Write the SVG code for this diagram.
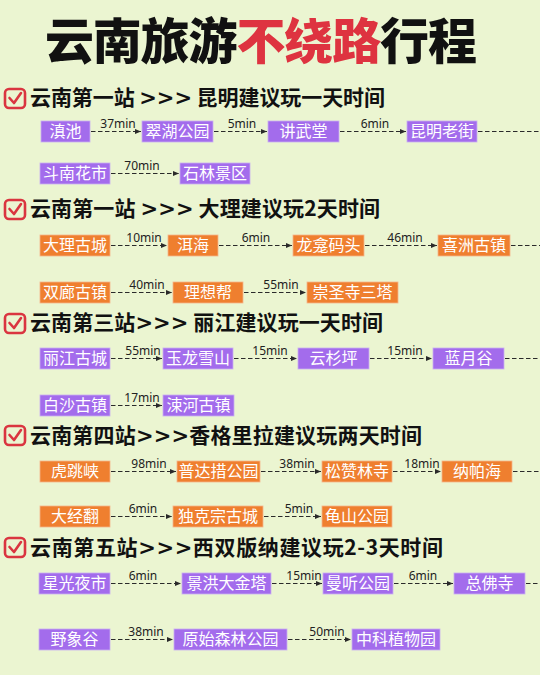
<svg xmlns="http://www.w3.org/2000/svg" width="540" height="675" viewBox="0 0 540 675">
<defs>
<style>
.bg{fill:#EBF5D1}
.title{font-family:"Noto Sans CJK SC",sans-serif;font-weight:900;font-size:49px;fill:#111}
.red{fill:#DE3340}
.hd{font-family:"Noto Sans CJK SC",sans-serif;font-weight:700;font-size:21px;fill:#111}
.gt{font-family:"DejaVu Sans",sans-serif;font-weight:700}
.chk rect{fill:none;stroke:#DA3540;stroke-width:2.6}
.chk path{fill:none;stroke:#DA3540;stroke-width:2.6;stroke-linecap:round;stroke-linejoin:round}
.p rect{fill:#A36CEC;stroke:#C9AEF3;stroke-width:0.8}
.o rect{fill:#EF7F2F;stroke:#F6B58A;stroke-width:0.8}
.node text{font-family:"Noto Sans CJK SC",sans-serif;font-size:16px;fill:#fff;text-anchor:middle}
.conn line{stroke:#2a2a2a;stroke-width:1.2;stroke-dasharray:4.5 2.5}
.conn text{font-family:"Noto Sans","Noto Sans CJK SC",sans-serif;font-size:12px;fill:#222;text-anchor:middle}
</style>
<marker id="ah" markerWidth="6" markerHeight="6" refX="6" refY="3" orient="auto" markerUnits="userSpaceOnUse">
<path d="M0,0.5 L6,3 L0,5.5 z" fill="#2a2a2a"/>
</marker>
</defs>
<rect class="bg" x="0" y="0" width="540" height="675"/>

<text class="title" x="45" y="59" textLength="432">云南旅游<tspan class="red">不绕路</tspan>行程</text>

<!-- headers -->
<g id="h1"><g class="chk"><rect x="5" y="89" width="20" height="19" rx="4"/><path d="M9.5,98 L14,103 L21,93"/></g>
<text class="hd" x="30" y="105" textLength="355">云南第一站 <tspan class="gt">&gt;&gt;&gt;</tspan> 昆明建议玩一天时间</text></g>
<g id="h2"><g class="chk"><rect x="5" y="200" width="20" height="19" rx="4"/><path d="M9.5,209 L14,214 L21,204"/></g>
<text class="hd" x="30" y="216" textLength="350">云南第一站 <tspan class="gt">&gt;&gt;&gt;</tspan> 大理建议玩2天时间</text></g>
<g id="h3"><g class="chk"><rect x="5" y="314" width="20" height="19" rx="4"/><path d="M9.5,323 L14,328 L21,318"/></g>
<text class="hd" x="30" y="330" textLength="353">云南第三站<tspan class="gt">&gt;&gt;&gt;</tspan> 丽江建议玩一天时间</text></g>
<g id="h4"><g class="chk"><rect x="5" y="426" width="20" height="19" rx="4"/><path d="M9.5,435 L14,440 L21,430"/></g>
<text class="hd" x="30" y="443" textLength="392">云南第四站<tspan class="gt">&gt;&gt;&gt;</tspan>香格里拉建议玩两天时间</text></g>
<g id="h5"><g class="chk"><rect x="5" y="538" width="20" height="19" rx="4"/><path d="M9.5,547 L14,552 L21,542"/></g>
<text class="hd" x="30" y="555" textLength="413">云南第五站<tspan class="gt">&gt;&gt;&gt;</tspan>西双版纳建议玩2-3天时间</text></g>

<!-- connectors -->
<g id="connectors" class="conn">
<line x1="91" y1="131.5" x2="141" y2="131.5" marker-end="url(#ah)"/><text x="118" y="127.5">37min</text>
<line x1="214" y1="131.5" x2="267" y2="131.5" marker-end="url(#ah)"/><text x="242" y="127.5">5min</text>
<line x1="340" y1="131.5" x2="406" y2="131.5" marker-end="url(#ah)"/><text x="375" y="127.5">6min</text>
<line x1="478" y1="131.5" x2="540" y2="131.5"/>
<line x1="111" y1="173.5" x2="179" y2="173.5" marker-end="url(#ah)"/><text x="142" y="169.5">70min</text>

<line x1="111" y1="245.5" x2="167" y2="245.5" marker-end="url(#ah)"/><text x="144" y="241.5">10min</text>
<line x1="219" y1="245.5" x2="292" y2="245.5" marker-end="url(#ah)"/><text x="256" y="241.5">6min</text>
<line x1="365" y1="245.5" x2="437" y2="245.5" marker-end="url(#ah)"/><text x="405" y="241.5">46min</text>
<line x1="511" y1="245.5" x2="540" y2="245.5"/>
<line x1="111" y1="292.5" x2="172" y2="292.5" marker-end="url(#ah)"/><text x="147" y="288.5">40min</text>
<line x1="244" y1="292.5" x2="306" y2="292.5" marker-end="url(#ah)"/><text x="281" y="288.5">55min</text>

<line x1="111" y1="358.5" x2="162" y2="358.5" marker-end="url(#ah)"/><text x="143" y="354.5">55min</text>
<line x1="234" y1="358.5" x2="297" y2="358.5" marker-end="url(#ah)"/><text x="270" y="354.5">15min</text>
<line x1="370" y1="358.5" x2="432" y2="358.5" marker-end="url(#ah)"/><text x="405" y="354.5">15min</text>
<line x1="505" y1="358.5" x2="540" y2="358.5"/>
<line x1="111" y1="405.5" x2="162" y2="405.5" marker-end="url(#ah)"/><text x="142" y="401.5">17min</text>

<line x1="111" y1="471.5" x2="176" y2="471.5" marker-end="url(#ah)"/><text x="149" y="467.5">98min</text>
<line x1="261" y1="471.5" x2="321" y2="471.5" marker-end="url(#ah)"/><text x="297" y="467.5">38min</text>
<line x1="393" y1="471.5" x2="441" y2="471.5" marker-end="url(#ah)"/><text x="422" y="467.5">18min</text>
<line x1="513" y1="471.5" x2="540" y2="471.5"/>
<line x1="111" y1="516.5" x2="172" y2="516.5" marker-end="url(#ah)"/><text x="143" y="512.5">6min</text>
<line x1="264" y1="516.5" x2="321" y2="516.5" marker-end="url(#ah)"/><text x="299" y="512.5">5min</text>

<line x1="111" y1="583.5" x2="181" y2="583.5" marker-end="url(#ah)"/><text x="143" y="579.5">6min</text>
<line x1="272" y1="583.5" x2="322" y2="583.5" marker-end="url(#ah)"/><text x="304" y="579.5">15min</text>
<line x1="394" y1="583.5" x2="453" y2="583.5" marker-end="url(#ah)"/><text x="423" y="579.5">6min</text>
<line x1="526" y1="583.5" x2="540" y2="583.5"/>
<line x1="111" y1="639.5" x2="173" y2="639.5" marker-end="url(#ah)"/><text x="146" y="635.5">38min</text>
<line x1="288" y1="639.5" x2="351" y2="639.5" marker-end="url(#ah)"/><text x="327" y="635.5">50min</text>
</g>

<!-- nodes -->
<g id="n-dianchi" class="node p"><rect x="41" y="121" width="49" height="21"/><text x="65.5" y="137">滇池</text></g>
<g id="n-cuihu" class="node p"><rect x="142" y="121" width="71" height="21"/><text x="177.5" y="137">翠湖公园</text></g>
<g id="n-jiangwutang" class="node p"><rect x="268" y="121" width="71" height="21"/><text x="303.5" y="137">讲武堂</text></g>
<g id="n-laojie" class="node p"><rect x="407" y="121" width="70" height="21"/><text x="442" y="137">昆明老街</text></g>
<g id="n-dounan" class="node p"><rect x="40" y="163" width="70" height="21"/><text x="75" y="179">斗南花市</text></g>
<g id="n-shilin" class="node p"><rect x="180" y="163" width="70" height="21"/><text x="215" y="179">石林景区</text></g>

<g id="n-daligucheng" class="node o"><rect x="40" y="235" width="70" height="21"/><text x="75" y="251">大理古城</text></g>
<g id="n-erhai" class="node o"><rect x="168" y="235" width="50" height="21"/><text x="193" y="251">洱海</text></g>
<g id="n-longkan" class="node o"><rect x="293" y="235" width="71" height="21"/><text x="328.5" y="251">龙龛码头</text></g>
<g id="n-xizhou" class="node o"><rect x="438" y="235" width="72" height="21"/><text x="474" y="251">喜洲古镇</text></g>
<g id="n-shuanglang" class="node o"><rect x="40" y="282" width="70" height="21"/><text x="75" y="298">双廊古镇</text></g>
<g id="n-lixiangbang" class="node o"><rect x="173" y="282" width="70" height="21"/><text x="208" y="298">理想帮</text></g>
<g id="n-santa" class="node o"><rect x="307" y="282" width="91" height="21"/><text x="352.5" y="298">崇圣寺三塔</text></g>

<g id="n-lijiang" class="node p"><rect x="40" y="348" width="70" height="21"/><text x="75" y="364">丽江古城</text></g>
<g id="n-yulong" class="node p"><rect x="163" y="348" width="70" height="21"/><text x="198" y="364">玉龙雪山</text></g>
<g id="n-yunshan" class="node p"><rect x="298" y="348" width="71" height="21"/><text x="333.5" y="364">云杉坪</text></g>
<g id="n-lanyue" class="node p"><rect x="433" y="348" width="71" height="21"/><text x="468.5" y="364">蓝月谷</text></g>
<g id="n-baisha" class="node p"><rect x="40" y="395" width="70" height="21"/><text x="75" y="411">白沙古镇</text></g>
<g id="n-shuhe" class="node p"><rect x="163" y="395" width="71" height="21"/><text x="198.5" y="411">涑河古镇</text></g>

<g id="n-hutiaoxia" class="node o"><rect x="40" y="461" width="70" height="21"/><text x="75" y="477">虎跳峡</text></g>
<g id="n-pudacuo" class="node o"><rect x="177" y="461" width="83" height="21"/><text x="218.5" y="477">普达措公园</text></g>
<g id="n-songzanlin" class="node o"><rect x="322" y="461" width="70" height="21"/><text x="357" y="477">松赞林寺</text></g>
<g id="n-napahai" class="node o"><rect x="442" y="461" width="70" height="21"/><text x="477" y="477">纳帕海</text></g>
<g id="n-dajingfan" class="node o"><rect x="40" y="506" width="70" height="21"/><text x="75" y="522">大经翻</text></g>
<g id="n-dukezong" class="node o"><rect x="173" y="506" width="90" height="21"/><text x="218" y="522">独克宗古城</text></g>
<g id="n-guishan" class="node o"><rect x="322" y="506" width="70" height="21"/><text x="357" y="522">龟山公园</text></g>

<g id="n-xingguang" class="node p"><rect x="39" y="573" width="71" height="21"/><text x="74.5" y="589">星光夜市</text></g>
<g id="n-jinta" class="node p"><rect x="182" y="573" width="89" height="21"/><text x="226.5" y="589">景洪大金塔</text></g>
<g id="n-manting" class="node p"><rect x="323" y="573" width="70" height="21"/><text x="358" y="589">曼听公园</text></g>
<g id="n-zongfo" class="node p"><rect x="454" y="573" width="71" height="21"/><text x="489.5" y="589">总佛寺</text></g>
<g id="n-yexianggu" class="node p"><rect x="39" y="629" width="71" height="21"/><text x="74.5" y="645">野象谷</text></g>
<g id="n-yuanshi" class="node p"><rect x="174" y="629" width="113" height="21"/><text x="230.5" y="645">原始森林公园</text></g>
<g id="n-zhike" class="node p"><rect x="352" y="629" width="88" height="21"/><text x="396" y="645">中科植物园</text></g>
</svg>
